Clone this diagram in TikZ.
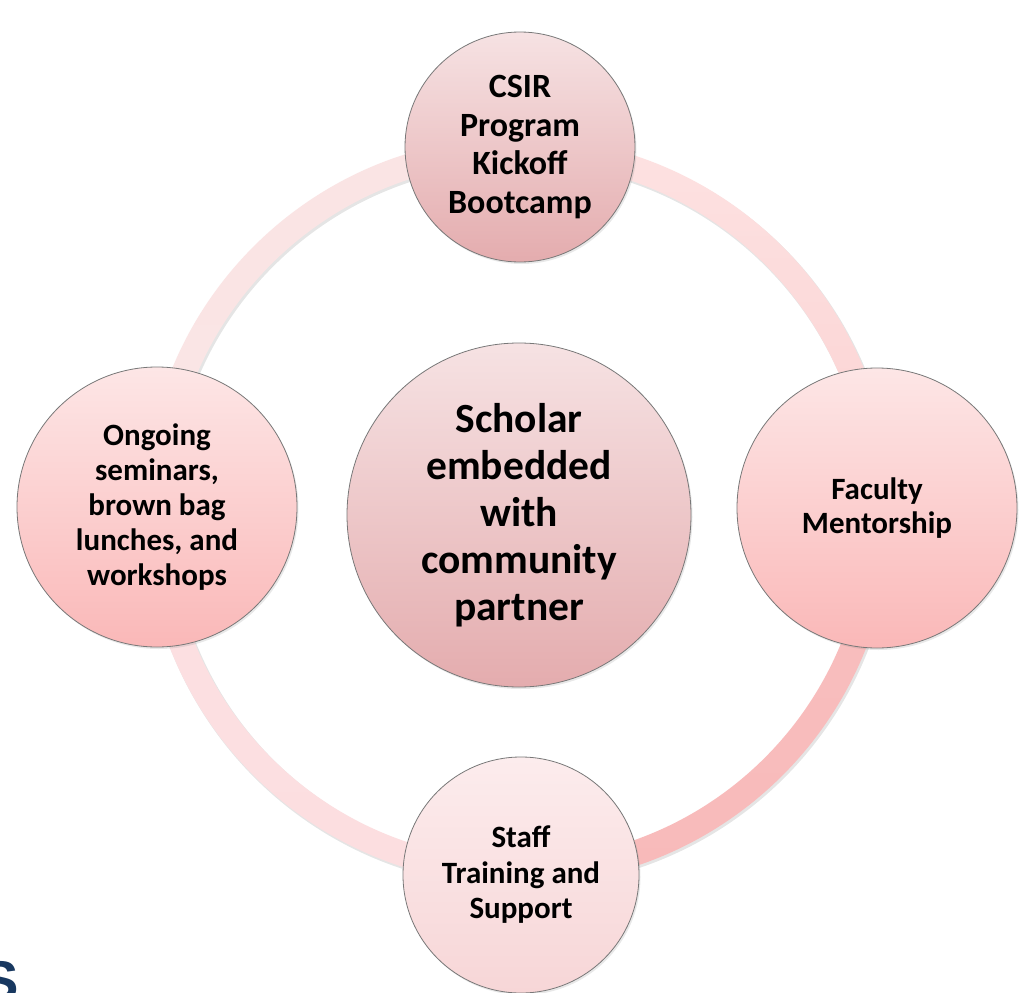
\documentclass[tikz,border=0pt]{standalone}
\usepackage{fontspec}
\setmainfont{Carlito}
\newfontfamily\sletter{Liberation Sans}
\usetikzlibrary{shadows}
\definecolor{tlTop}{RGB}{250,228,228}
\definecolor{tlBot}{RGB}{251,230,230}
\definecolor{trTop}{RGB}{253,226,226}
\definecolor{trBot}{RGB}{249,192,192}
\definecolor{brTop}{RGB}{249,196,196}
\definecolor{brBot}{RGB}{248,186,186}
\definecolor{blTop}{RGB}{252,226,228}
\definecolor{blBot}{RGB}{252,222,224}
\definecolor{rosyTop}{RGB}{246,226,227}
\definecolor{rosyBot}{RGB}{228,172,174}
\definecolor{pinkTop}{RGB}{253,230,230}
\definecolor{pinkBot}{RGB}{250,184,184}
\definecolor{paleTop}{RGB}{252,236,237}
\definecolor{paleBot}{RGB}{247,214,215}
\definecolor{edgeGrey}{RGB}{120,120,120}
\definecolor{sNavy}{RGB}{24,56,96}
\begin{document}
\begin{tikzpicture}[x=1pt,y=-1pt,
  bub/.style={circle, draw=edgeGrey, line width=0.8pt, inner sep=0pt, align=center,
    text=black, drop shadow={opacity=0.18, shadow xshift=1.5pt, shadow yshift=-2pt}},
  rosy/.style={bub, top color=rosyTop, bottom color=rosyBot},
  pinky/.style={bub, top color=pinkTop, bottom color=pinkBot},
  paley/.style={bub, top color=paleTop, bottom color=paleBot}]
\useasboundingbox (0,0) rectangle (1021,993);
\fill[white] (0,0) rectangle (1021,993);
% ring: soft shadow, then four shaded quarters
\coordinate (rc) at (518,511);
\coordinate (rcs) at (519.5,513);
\fill[even odd rule, black, opacity=0.10] (rcs) circle (374.5) (rcs) circle (348.5);
\begin{scope}
  \clip (0,0) rectangle (518,511);
  \shade[even odd rule, top color=tlTop, bottom color=tlBot] (rc) circle (374) (rc) circle (349);
\end{scope}
\begin{scope}
  \clip (518,0) rectangle (1021,511);
  \shade[even odd rule, top color=trTop, bottom color=trBot] (rc) circle (374) (rc) circle (349);
\end{scope}
\begin{scope}
  \clip (518,511) rectangle (1021,993);
  \shade[even odd rule, top color=brTop, bottom color=brBot] (rc) circle (374) (rc) circle (349);
\end{scope}
\begin{scope}
  \clip (0,511) rectangle (518,993);
  \shade[even odd rule, top color=blTop, bottom color=blBot] (rc) circle (374) (rc) circle (349);
\end{scope}
% partial title letter
\node[inner sep=0pt, anchor=base east, text=sNavy,
  font=\fontsize{56}{56}\selectfont\sletter\bfseries] (sl) at (19,1000) {S};
% circles
\node[rosy, minimum size=230, font=\fontsize{34}{38.5}\selectfont\bfseries]
  (top) at (520,147) {CSIR\\Program\\Kickoff\\Bootcamp};
\node[pinky, minimum size=280, font=\fontsize{31}{34}\selectfont\bfseries]
  (right) at (877,508) {Faculty\\Mentorship};
\node[pinky, minimum size=280, font=\fontsize{31}{35}\selectfont\bfseries]
  (left) at (157,507) {Ongoing\\seminars,\\brown bag\\lunches, and\\workshops};
\node[paley, minimum size=236, font=\fontsize{31}{35.5}\selectfont\bfseries]
  (bottom) at (521,875) {Staff\\Training and\\Support};
\node[rosy, minimum size=344, font=\fontsize{41.5}{47}\selectfont\bfseries]
  (center) at (519,515) {Scholar\\embedded\\with\\community\\partner};
\end{tikzpicture}
\end{document}
